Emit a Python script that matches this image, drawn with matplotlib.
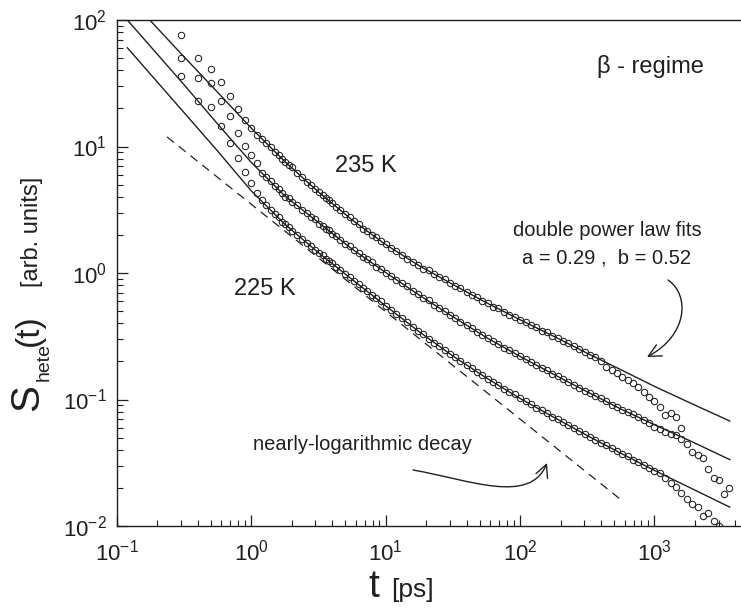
import matplotlib
matplotlib.use('Agg')
import matplotlib.pyplot as plt
from matplotlib.path import Path
from matplotlib.patches import FancyArrowPatch
from matplotlib.ticker import LogLocator, NullFormatter

plt.rcParams['font.family'] = ['Liberation Sans', 'DejaVu Sans']
plt.rcParams['mathtext.fontset'] = 'custom'
plt.rcParams['mathtext.rm'] = 'Liberation Sans'
plt.rcParams['mathtext.it'] = 'Liberation Sans:italic'
plt.rcParams['mathtext.bf'] = 'Liberation Sans:bold'

# ---------------- data ----------------
t_ps = [0.3, 0.4, 0.5, 0.6, 0.7, 0.8, 0.9, 1.0, 1.1, 1.2, 1.3, 1.4, 1.5, 1.6, 1.7, 1.8, 1.9, 2.0,
        2.2, 2.4, 2.6, 2.8, 3.0, 3.2, 3.4, 3.6, 3.8, 4.0, 4.3, 4.6, 5.0, 5.4, 5.8, 6.3, 6.8, 7.3, 7.9, 8.5, 9.2, 10,
        11, 12, 13.2, 14.5, 16, 17.4, 19, 21, 23, 25, 27.5, 30, 33, 36, 40, 44, 48, 52.5, 57.5, 63, 69, 76, 83, 91,
        100, 110, 120, 132, 145, 158, 174, 190, 209, 229, 251, 275, 302, 331, 363, 398, 437, 479, 525, 575, 631,
        692, 759, 832, 912,
        1000, 1096, 1202, 1318, 1445, 1585, 1738, 1905, 2089, 2291, 2512, 2754, 3020, 3311, 3600]

S_235K = [76.0, 50.1, 41.0, 32.4, 25.1, 19.8, 16.2, 14.0, 12.3, 11.5, 10.7, 9.89, 9.12, 8.61, 7.94, 7.59, 7.08, 6.84,
          6.17, 5.75, 5.25, 4.95, 4.62, 4.37, 4.12, 3.89, 3.76, 3.55, 3.31, 3.16, 2.92, 2.75, 2.57, 2.43, 2.24, 2.16,
          2.00, 1.93, 1.78, 1.68,
          1.58, 1.48, 1.40, 1.30, 1.23, 1.16, 1.08, 1.05, 0.977, 0.933, 0.891, 0.832, 0.794, 0.759, 0.708, 0.676,
          0.646, 0.603, 0.582, 0.543, 0.525, 0.495, 0.468, 0.452, 0.427, 0.407, 0.385, 0.372, 0.351, 0.339, 0.320,
          0.305, 0.288, 0.279, 0.263, 0.251, 0.237, 0.226, 0.216, 0.200, 0.182, 0.172, 0.162, 0.151, 0.143, 0.135,
          0.126, 0.114, 0.104, 0.0977, 0.0871, 0.0759, 0.0785, 0.0724, 0.0596]

S_230K = [50.1, 34.8, 31.8, 22.9, 17.4, 12.8, 10.1, 8.57, 7.41, 6.2, 5.75, 5.37, 4.90, 4.62, 4.32, 3.98, 3.89, 3.67,
          3.47, 3.16, 2.99, 2.75, 2.66, 2.45, 2.37, 2.24, 2.19, 2.04, 1.95, 1.84, 1.68, 1.62, 1.51, 1.45, 1.33, 1.29,
          1.22, 1.12, 1.08, 1.00,
          0.955, 0.881, 0.832, 0.785, 0.724, 0.684, 0.638, 0.610, 0.562, 0.531, 0.501, 0.462, 0.442, 0.412, 0.389,
          0.367, 0.343, 0.324, 0.305, 0.288, 0.275, 0.257, 0.245, 0.232, 0.219, 0.209, 0.197, 0.188, 0.178, 0.170,
          0.160, 0.153, 0.145, 0.138, 0.130, 0.124, 0.117, 0.112, 0.106, 0.102, 0.0966, 0.0912, 0.0871, 0.0832,
          0.0794, 0.0767, 0.0724, 0.0692, 0.0655, 0.0610, 0.0582, 0.0550, 0.0531, 0.0525, 0.0490, 0.0447, 0.0385,
          0.0363, 0.0347, 0.0282, 0.0240, 0.0229, 0.0178, 0.0200]

S_225K = [36.1, 22.9, 20.5, 14.5, 10.7, 8.11, 6.28, 5.14, 4.29, 3.80, 3.43, 3.16, 2.92, 2.75, 2.54, 2.43, 2.29, 2.16,
          2.00, 1.86, 1.72, 1.62, 1.51, 1.43, 1.38, 1.29, 1.24, 1.19, 1.11, 1.06, 0.989, 0.923, 0.871, 0.813, 0.767,
          0.716, 0.676, 0.631, 0.596, 0.550,
          0.513, 0.473, 0.442, 0.407, 0.376, 0.351, 0.327, 0.302, 0.282, 0.266, 0.245, 0.229, 0.216, 0.202, 0.188,
          0.178, 0.166, 0.157, 0.146, 0.138, 0.130, 0.122, 0.115, 0.110, 0.102, 0.0966, 0.0923, 0.0861, 0.0822,
          0.0776, 0.0733, 0.0700, 0.0661, 0.0624, 0.0596, 0.0562, 0.0531, 0.0507, 0.0479, 0.0457, 0.0437, 0.0412,
          0.0389, 0.0372, 0.0355, 0.0335, 0.0320, 0.0302, 0.0285, 0.0272, 0.0263, 0.0240, 0.0219, 0.0202, 0.0182,
          0.0162, 0.0148, 0.0141, 0.0120, 0.0126, 0.0110, 0.0100]

# double power law fit curves
t_fit = [0.12, 0.316, 0.562, 1.0, 1.78, 3.16, 5.62, 10, 17.8, 31.6, 56.2, 100, 178, 316, 562, 1000, 1780, 3630]
fit_235K = [155, 51.3, 26.9, 14.0, 7.60, 4.38, 2.63, 1.68, 1.14, 0.813, 0.582, 0.427, 0.316, 0.232, 0.172,
            0.127, 0.0955, 0.0676]
fit_230K = [100, 30.9, 15.1, 7.50, 4.07, 2.51, 1.55, 1.01, 0.668, 0.452, 0.309, 0.219, 0.158, 0.115, 0.0841,
            0.0631, 0.0479, 0.0335]
fit_225K = [60.3, 18.6, 9.23, 4.47, 2.43, 1.45, 0.891, 0.550, 0.343, 0.221, 0.148, 0.102, 0.0724, 0.0519,
            0.0376, 0.0275, 0.0204, 0.0141]

# nearly-logarithmic (power law) guide
t_guide = [0.237, 556]
S_guide = [11.9, 0.0163]

# ---------------- figure ----------------
W, H = 741, 609
ink = '#231f20'
fig = plt.figure(figsize=(W / 100, H / 100), dpi=100)
ax = fig.add_axes([116.7 / W, (H - 526) / H, (W - 116.7) / W, (526 - 20) / H])
ax.set_xscale('log')
ax.set_yscale('log')
ax.set_xlim(0.1, 4400)
ax.set_ylim(0.01, 100)

for S in (S_235K, S_230K, S_225K):
    ax.plot(t_ps[:len(S)], S, 'o', ms=4.6, mfc='none', mec=ink, mew=0.75)
for F in (fit_235K, fit_230K, fit_225K):
    ax.plot(t_fit, F, '-', color=ink, lw=1.0)
ax.plot(t_guide, S_guide, color=ink, lw=0.9, ls=(0, (7, 5)))

for side in ('left', 'bottom', 'top'):
    ax.spines[side].set_linewidth(1.0)
    ax.spines[side].set_color(ink)
ax.spines['right'].set_visible(False)

ax.xaxis.set_major_locator(LogLocator(base=10, numticks=20))
ax.yaxis.set_major_locator(LogLocator(base=10, numticks=20))
ax.xaxis.set_minor_locator(LogLocator(base=10, subs=range(2, 10), numticks=20))
ax.yaxis.set_minor_locator(LogLocator(base=10, subs=range(2, 10), numticks=20))
ax.xaxis.set_minor_formatter(NullFormatter())
ax.yaxis.set_minor_formatter(NullFormatter())
ax.tick_params(which='both', direction='in', top=False, right=False, color=ink,
               labelcolor=ink, labelsize=16)
ax.tick_params(which='major', length=8, width=0.9)
ax.tick_params(which='minor', length=4.5, width=0.8)
ax.tick_params(axis='x', pad=10)
ax.tick_params(axis='y', pad=7)


def px(x, y):
    return x / W, 1 - y / H


# axis labels (mixed sizes)
fig.text(*px(374, 587), 't', fontsize=28, ha='center', va='center', color=ink)
fig.text(*px(412, 590), '[ps]', fontsize=19, ha='center', va='center', color=ink)
fig.text(*px(27, 398), 'S', fontsize=29, rotation=90, ha='center', va='center', color=ink)
fig.text(*px(44, 362), 'hete', fontsize=14, rotation=90, ha='center', va='center', color=ink)
fig.text(*px(29, 330), '(t)', fontsize=24, rotation=90, ha='center', va='center', color=ink)
fig.text(*px(32, 232), '[arb. units]', fontsize=17, rotation=90, ha='center', va='center', color=ink)

# annotations
fig.text(*px(366, 166), '235 K', fontsize=17, ha='center', va='center', color=ink)
fig.text(*px(265, 289), '225 K', fontsize=17, ha='center', va='center', color=ink)
fig.text(*px(650, 66), '\u03b2 - regime', fontsize=17, ha='center', va='center', color=ink)
fig.text(*px(607, 231), 'double power law fits', fontsize=14.5, ha='center', va='center', color=ink)
fig.text(*px(607, 258), 'a = 0.29 ,  b = 0.52', fontsize=14.5, ha='center', va='center', color=ink)
fig.text(*px(362, 444), 'nearly-logarithmic decay', fontsize=14.5, ha='center', va='center', color=ink)

codes = [Path.MOVETO, Path.CURVE4, Path.CURVE4, Path.CURVE4]
arrow1 = Path([px(668, 280), px(690, 295), px(688, 335), px(647, 357)], codes)
arrow2 = Path([px(413, 470), px(470, 480), px(530, 505), px(547, 463)], codes)
for p in (arrow1, arrow2):
    fig.add_artist(FancyArrowPatch(path=p, arrowstyle='->,head_length=0.5,head_width=0.25',
                                   mutation_scale=18, lw=1.0, color=ink,
                                   transform=fig.transFigure))

fig.savefig('out.png', dpi=100)
